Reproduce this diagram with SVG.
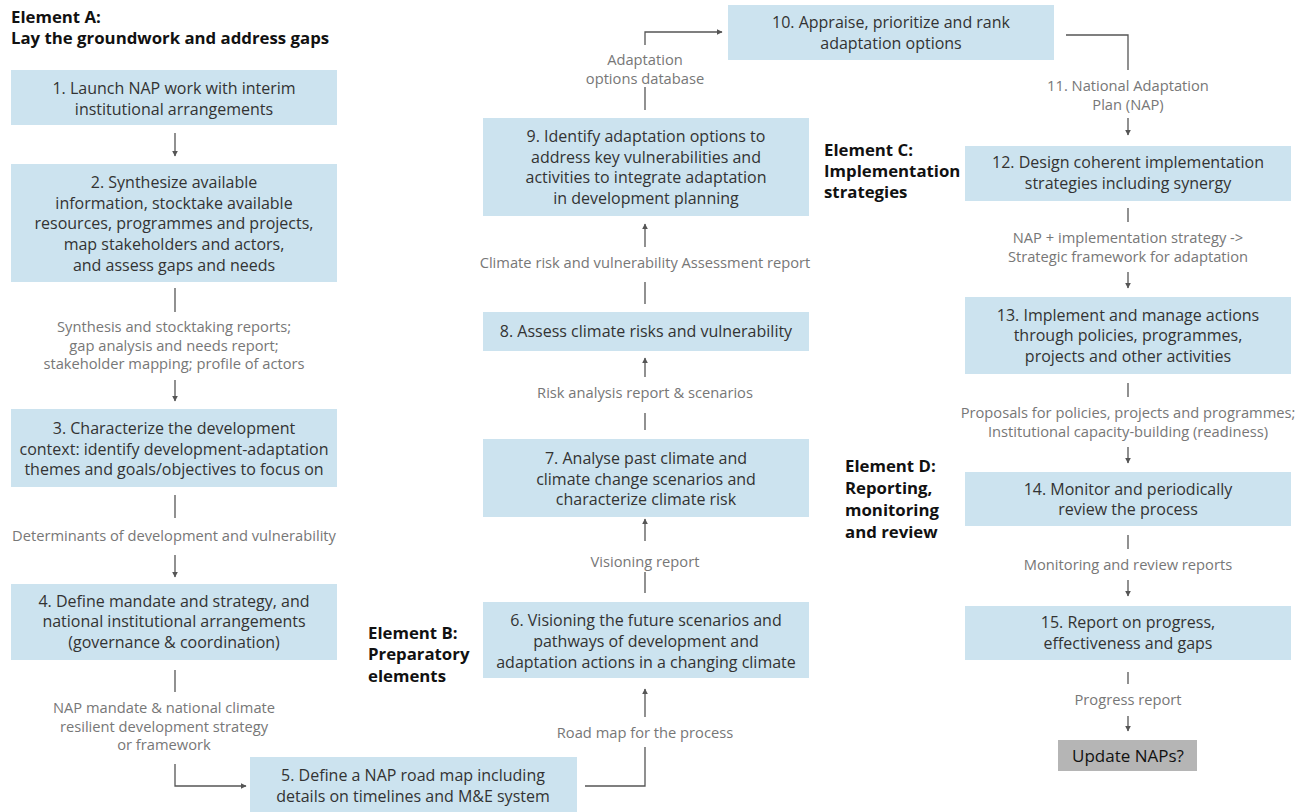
<svg xmlns="http://www.w3.org/2000/svg" width="1306" height="812" viewBox="0 0 1306 812">
<style>
.box{fill:#cce3ef}
.gbox{fill:#b5b5b5}
.t{font-family:"Open Sans","Liberation Sans",sans-serif;font-size:16px;fill:#333;text-anchor:middle}
.l{font-family:"Open Sans","Liberation Sans",sans-serif;font-size:14.7px;fill:#777;text-anchor:middle}
.h{font-family:"Open Sans","Liberation Sans",sans-serif;font-size:16.8px;font-weight:bold;fill:#111}
.c{fill:none;stroke:#555;stroke-width:1.3}
.a{fill:none;stroke:#555;stroke-width:1.3;marker-end:url(#ah)}
</style>
<defs>
<marker id="ah" viewBox="0 0 10 10" refX="9" refY="5" markerWidth="6" markerHeight="6" markerUnits="userSpaceOnUse" orient="auto">
<path d="M0,0 L10,5 L0,10 z" fill="#555"/>
</marker>
</defs>
<rect width="1306" height="812" fill="#fff"/>

<g id="headings">
<text class="h" x="11" y="23">Element A:</text>
<text class="h" x="11" y="44">Lay the groundwork and address gaps</text>
<text class="h" x="368" y="639">Element B:</text>
<text class="h" x="368" y="660">Preparatory</text>
<text class="h" x="368" y="682">elements</text>
<text class="h" x="824" y="156">Element C:</text>
<text class="h" x="824" y="177">Implementation</text>
<text class="h" x="824" y="198">strategies</text>
<text class="h" x="845" y="472">Element D:</text>
<text class="h" x="845" y="494">Reporting,</text>
<text class="h" x="845" y="516">monitoring</text>
<text class="h" x="845" y="538">and review</text>
</g>

<g id="n1"><rect class="box" x="11" y="70" width="326" height="55"/>
<text class="t" x="174" y="94">1. Launch NAP work with interim</text>
<text class="t" x="174" y="115">institutional arrangements</text></g>

<g id="n2"><rect class="box" x="11" y="164" width="326" height="118"/>
<text class="t" x="174" y="188">2. Synthesize available</text>
<text class="t" x="174" y="209">information, stocktake available</text>
<text class="t" x="174" y="229">resources, programmes and projects,</text>
<text class="t" x="174" y="250">map stakeholders and actors,</text>
<text class="t" x="174" y="271">and assess gaps and needs</text></g>

<g id="n3"><rect class="box" x="11" y="409" width="326" height="78"/>
<text class="t" x="174" y="434">3. Characterize the development</text>
<text class="t" x="174" y="455">context: identify development-adaptation</text>
<text class="t" x="174" y="475">themes and goals/objectives to focus on</text></g>

<g id="n4"><rect class="box" x="11" y="584" width="326" height="76"/>
<text class="t" x="174" y="607">4. Define mandate and strategy, and</text>
<text class="t" x="174" y="627">national institutional arrangements</text>
<text class="t" x="174" y="648">(governance &amp; coordination)</text></g>

<g id="n5"><rect class="box" x="250" y="757" width="327" height="55"/>
<text class="t" x="413" y="781">5. Define a NAP road map including</text>
<text class="t" x="413" y="802">details on timelines and M&amp;E system</text></g>

<g id="n6"><rect class="box" x="483" y="602" width="326" height="76"/>
<text class="t" x="646" y="626">6. Visioning the future scenarios and</text>
<text class="t" x="646" y="647">pathways of development and</text>
<text class="t" x="646" y="668">adaptation actions in a changing climate</text></g>

<g id="n7"><rect class="box" x="483" y="439" width="326" height="78"/>
<text class="t" x="646" y="464">7. Analyse past climate and</text>
<text class="t" x="646" y="485">climate change scenarios and</text>
<text class="t" x="646" y="505">characterize climate risk</text></g>

<g id="n8"><rect class="box" x="483" y="312" width="326" height="39"/>
<text class="t" x="646" y="337">8. Assess climate risks and vulnerability</text></g>

<g id="n9"><rect class="box" x="483" y="118" width="326" height="98"/>
<text class="t" x="646" y="142">9. Identify adaptation options to</text>
<text class="t" x="646" y="163">address key vulnerabilities and</text>
<text class="t" x="646" y="183">activities to integrate adaptation</text>
<text class="t" x="646" y="204">in development planning</text></g>

<g id="n10"><rect class="box" x="728" y="5" width="326" height="55"/>
<text class="t" x="891" y="28">10. Appraise, prioritize and rank</text>
<text class="t" x="891" y="49">adaptation options</text></g>

<g id="n12"><rect class="box" x="965" y="146" width="326" height="55"/>
<text class="t" x="1128" y="168">12. Design coherent implementation</text>
<text class="t" x="1128" y="189">strategies including synergy</text></g>

<g id="n13"><rect class="box" x="965" y="297" width="326" height="77"/>
<text class="t" x="1128" y="321">13. Implement and manage actions</text>
<text class="t" x="1128" y="341">through policies, programmes,</text>
<text class="t" x="1128" y="362">projects and other activities</text></g>

<g id="n14"><rect class="box" x="965" y="472" width="326" height="54"/>
<text class="t" x="1128" y="495">14. Monitor and periodically</text>
<text class="t" x="1128" y="515">review the process</text></g>

<g id="n15"><rect class="box" x="965" y="606" width="326" height="54"/>
<text class="t" x="1128" y="628">15. Report on progress,</text>
<text class="t" x="1128" y="649">effectiveness and gaps</text></g>

<g id="n16"><rect class="gbox" x="1058" y="740" width="139" height="31"/>
<text class="t" x="1128" y="762" style="fill:#111;font-size:17px">Update NAPs?</text></g>

<g id="labels">
<text class="l" x="174" y="332">Synthesis and stocktaking reports;</text>
<text class="l" x="174" y="350.5">gap analysis and needs report;</text>
<text class="l" x="174" y="369">stakeholder mapping; profile of actors</text>
<text class="l" x="174" y="541">Determinants of  development and vulnerability</text>
<text class="l" x="164" y="713">NAP mandate &amp; national climate</text>
<text class="l" x="164" y="731.5">resilient development strategy</text>
<text class="l" x="164" y="750">or framework</text>
<text class="l" x="645" y="738">Road map for the process</text>
<text class="l" x="645" y="567">Visioning report</text>
<text class="l" x="645" y="398">Risk analysis report &amp; scenarios</text>
<text class="l" x="645" y="268">Climate risk and vulnerability Assessment report</text>
<text class="l" x="645" y="65">Adaptation</text>
<text class="l" x="645" y="83.5">options database</text>
<text class="l" x="1128" y="91">11. National Adaptation</text>
<text class="l" x="1128" y="109.5">Plan (NAP)</text>
<text class="l" x="1128" y="243">NAP + implementation strategy -&gt;</text>
<text class="l" x="1128" y="261.5">Strategic framework for adaptation</text>
<text class="l" x="1128" y="418">Proposals for policies, projects and programmes;</text>
<text class="l" x="1128" y="436.5">Institutional capacity-building (readiness)</text>
<text class="l" x="1128" y="570">Monitoring and review reports</text>
<text class="l" x="1128" y="705">Progress report</text>
</g>

<g id="connectors">
<path class="a" d="M175,133 V156"/>
<path class="c" d="M175,288 V312"/>
<path class="a" d="M175,380 V401"/>
<path class="c" d="M175,495 V518"/>
<path class="a" d="M175,555 V577"/>
<path class="c" d="M175,670 V692"/>
<path class="a" d="M175,764 V786 H246"/>
<path class="c" d="M585,786 H645 V747"/>
<path class="a" d="M645,717 V689"/>
<path class="c" d="M645,593 V572"/>
<path class="a" d="M645,541 V519"/>
<path class="c" d="M645,430 V413"/>
<path class="a" d="M645,377 V358"/>
<path class="c" d="M645,304 V282"/>
<path class="a" d="M645,247 V224"/>
<path class="c" d="M645,110 V87"/>
<path class="a" d="M645,45 V32 H722"/>
<path class="c" d="M1066,35 H1128 V70"/>
<path class="a" d="M1128,118 V135"/>
<path class="c" d="M1128,208 V222"/>
<path class="a" d="M1128,272 V288"/>
<path class="c" d="M1128,383 V397"/>
<path class="a" d="M1128,447 V463"/>
<path class="c" d="M1128,535 V549"/>
<path class="a" d="M1128,580 V596"/>
<path class="c" d="M1128,672 V684"/>
<path class="a" d="M1128,716 V731"/>
</g>
</svg>
